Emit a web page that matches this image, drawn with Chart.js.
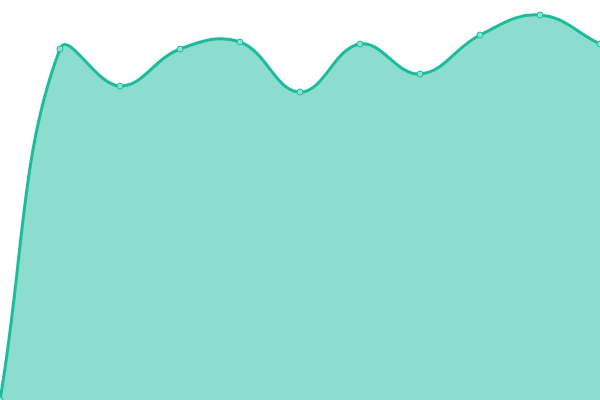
<!DOCTYPE html>
<html><head><meta charset="utf-8">
<script src="https://cdn.jsdelivr.net/npm/chart.js@4"></script>
<style>html,body{margin:0;padding:0;background:#fff}#w{width:600px;height:400px}</style>
</head><body><div id="w"><canvas id="c"></canvas></div>
<script>
const labels = ['1','2','3','4','5','6','7','8','9','10','11'];
const values = [0, 87.75, 78.5, 87.75, 89.5, 77, 89, 81.5, 91.25, 96.25, 89];
new Chart(document.getElementById('c'), {
  type: 'line',
  data: { labels: labels, datasets: [{
    data: values,
    fill: true,
    tension: 0.4,
    borderColor: '#1abc9c',
    backgroundColor: 'rgba(26,188,156,0.5)',
    borderWidth: 3,
    pointRadius: 3,
    pointBorderWidth: 1,
    pointBackgroundColor: '#8ce0cf',
    pointBorderColor: '#1abc9c'
  }]},
  options: {
    responsive: true, maintainAspectRatio: false, animation: false,
    layout: { padding: 0, autoPadding: false },
    plugins: { legend: { display: false }, tooltip: { enabled: false } },
    scales: {
      x: { display: false, offset: false },
      y: { display: false, min: 0, max: 100 }
    }
  }
});
</script></body></html>
